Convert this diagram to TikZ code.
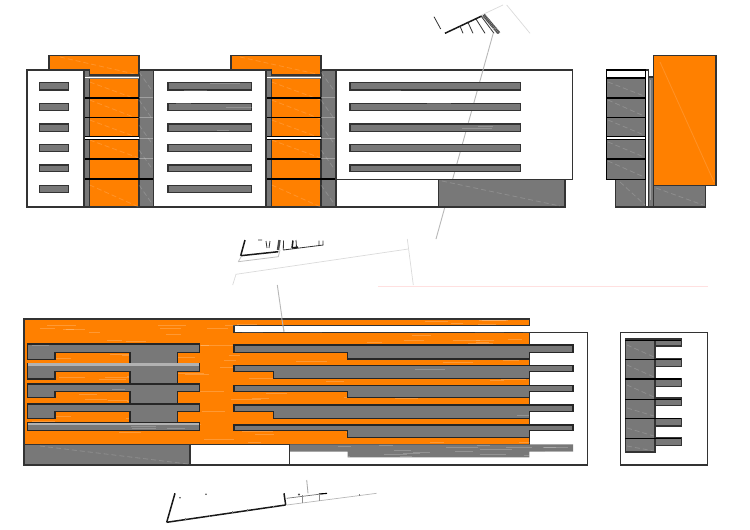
\documentclass[tikz,border=0pt]{standalone}
\definecolor{orng}{HTML}{FF8000}
\definecolor{gr}{HTML}{787878}
\definecolor{edge}{HTML}{333333}
\tikzset{
 x=1pt,y=-1pt,
 ln/.style={draw=edge,line width=1.3pt,line join=miter},
 thk/.style={draw=black,line width=1.6pt},
 okbox/.style={fill=orng,ln},
 grbox/.style={fill=gr,ln},
 wbox/.style={fill=white,ln},
 win/.style={fill=gr,draw=black!80,line width=1.4pt},
 faint/.style={draw=black!25,line width=.8pt},
 fainter/.style={draw=black!14,line width=.7pt},
 site/.style={draw=black!80,line width=.8pt},
 sitethick/.style={draw=black!90,line width=1.5pt},
 sheen/.style={draw=white,opacity=.2,line width=.9pt},
 diag/.style={draw=white,opacity=.16,line width=.8pt,dash pattern=on 5pt off 3pt},
}
% #1 x0, #2 y0, #3 width, #4 height, #5 count: horizontal pale dashes
\newcommand{\streaks}[5]{%
 \foreach \i in {1,...,#5}{%
  \pgfmathsetmacro{\sx}{#1+rnd*#3}%
  \pgfmathsetmacro{\sy}{#2+rnd*#4}%
  \pgfmathsetmacro{\sl}{10+rnd*22}%
  \draw[sheen] (\sx,\sy) -- ++(\sl,0);
 }}
% #1 path, #2..#5 streak box, #6 count
\newcommand{\band}[6]{%
 \fill[gr] #1;
 \begin{scope}\clip #1; \streaks{#2}{#3}{#4}{#5}{#6}\end{scope}
 \draw[draw=black!85,line width=1.3pt,line join=miter] #1;}
\begin{document}
\begin{tikzpicture}
\pgfmathsetseed{4242}
\fill[white] (0,0) rectangle (750,530);
\useasboundingbox (0,0) rectangle (750,530);

%--- faint site lines behind
\draw[fainter] (481.7,15) -- (503,5) (506.7,5) -- (530,33.3);
\draw[fainter] (232.7,285) -- (236,274.3) -- (408.3,249);
\draw[fainter] (407.3,239) -- (413.3,285);
\draw[faint] (238.3,261.7) -- (278.3,256.7) -- (280,250);
\draw[faint] (241,257) -- (238.3,261.7);
\draw[draw=black!28,line width=.9pt] (277.3,285) -- (284,331.7);
\draw[draw=red!12,line width=1pt] (378,286) -- (708,286);

%--- top site fragment
\begin{scope}
\clip (425,5) rectangle (540,33.3);
\draw[site] (434,16.7) -- (440.7,29);
\draw[sitethick] (445,33.3) -- (481.7,16);
\draw[site] (460,26) -- (463,33.3) (468,22.5) -- (473,33.3) (476,19) -- (485,33.3);
\draw[draw=black!70,line width=3.4pt,dash pattern=on 1.2pt off .5pt] (483.5,15) -- (499,33.3);
\draw[site] (481,16) -- (494,33.3);
\end{scope}

%--- middle site fragment
\draw[sitethick] (245,240) -- (240.7,255.7);
\draw[sitethick] (240.7,255.7) -- (278.3,251.7);
\draw[draw=black!70,line width=2.4pt] (279.5,240) -- (278,250);
\draw[site] (258,240) -- (262,240) (266,241) -- (267,248) (270,241) -- (269,248);
\draw[site] (283.5,240.5) -- (283.3,250);
\draw[site] (283.3,250) -- (323.3,245);
\draw[sitethick] (293,240.5) -- (292,248) (292,248) -- (298,247);
\draw[site] (296,240) -- (296.5,247) (319,240.5) -- (319,245.5) (323,240.5) -- (323,245);

%--- bottom site fragment
\draw[sitethick] (175,493.3) -- (166.7,522.3);
\draw[sitethick] (166.7,522.3) -- (285.5,505);
\draw[sitethick] (284,493.3) -- (285.7,505);
\draw[draw=black!55,line width=.7pt] (286.7,498.3) -- (326.7,493.3);
\draw[draw=black,line width=1.1pt] (319,494) -- (327,493.4);
\draw[draw=black!28,line width=.7pt] (286.7,505) -- (376.7,493.3);
\draw[draw=black!45,line width=.6pt] (302.3,495) -- (302.3,503.3) (319,494) -- (319,501);
\draw[draw=black!35,line width=.8pt] (306.7,480) -- (308,493.3);
\fill[black!70] (180,497.7) circle (.9) (206,494.3) circle (.9) (299,494.5) circle (1.1);
\draw[draw=black!50,line width=.6pt] (185.5,517.5) -- ++(0,2) (209,514.5) -- ++(0,2) (232,511) -- ++(0,2) (247.5,509) -- ++(0,2) (273.5,505.5) -- ++(0,2) (359.5,494) -- ++(0,2);

%=== FRONT ELEVATION
\path[okbox] (49,55.7) rectangle (139,90);
\path[okbox] (231,55.7) rectangle (321,90);
\draw[diag] (60,57) -- (139,75) (240,57) -- (321,75);
\path[grbox] (84,70) rectangle (89.7,207);
\path[okbox] (89.7,75) rectangle (139,207);
\path[grbox] (139,70) rectangle (153.3,207);
\path[grbox] (266,70) rectangle (271.7,207);
\path[okbox] (271.7,75) rectangle (321,207);
\path[grbox] (321,70) rectangle (336,207);
\foreach \xa in {89.7,271.7}{
 \draw[diag] (\xa,82) -- ++(49,18) (\xa,100) -- ++(49,19) (\xa,120) -- ++(49,18) (\xa,140) -- ++(49,18) (\xa,185) -- ++(49,22);
}
\foreach \xa in {139,321}{
 \draw[diag] (\xa,72) -- ++(14,20) (\xa,100) -- ++(14,20) (\xa,125) -- ++(14,20) (\xa,150) -- ++(14,20) (\xa,185) -- ++(14,20);
}
\foreach \xa/\xb in {84/139,266/321}{
 \fill[white] (\xa,75.8) rectangle (\xb,78.2);
 \draw[draw=gr,line width=1pt] (\xa,76) -- (\xb,76) (\xa,78) -- (\xb,78);
 \draw[thk] (\xa,97.7) -- (\xb,97.7) (\xa,117.3) -- (\xb,117.3);
 \fill[white] (\xa,137.3) rectangle (\xb,139.3);
 \draw[draw=black,line width=.9pt] (\xa,139.7) -- (\xb,139.7) (\xa,136.9) -- (\xb,136.9);
 \draw[thk] (\xa,158.7) -- (\xb,158.7) (\xa,178.7) -- (\xb,178.7);
}
\draw[thk] (139,178.7) -- (153.3,178.7) (321,178.7) -- (336,178.7);
\foreach \xa in {139,321}{
 \draw[draw=white,opacity=.3,line width=.8pt] (\xa,97.7) -- ++(14,0) (\xa,117.3) -- ++(14,0) (\xa,138.3) -- ++(14,0) (\xa,158.7) -- ++(14,0);
}
\path[wbox] (27,70) rectangle (84,207);
\path[wbox] (153.3,70) rectangle (266,207);
\path[wbox] (336,70) rectangle (572.5,179.5);
\path[wbox] (336,179.5) rectangle (438.5,207);
\draw[draw=black!28,line width=.9pt] (493.3,33) -- (436,239);
\path[grbox] (438.5,179.5) rectangle (565,207);
\draw[diag] (442,181) -- (560,206);
\foreach \ya/\yb in {82.7/90,103.7/110.3,124/131.3,144.3/151.7,165/171.7,185.3/192.7}{
 \path[win] (39.5,\ya) rectangle (68.7,\yb);
 \path[win] (168,\ya) rectangle (251.3,\yb);
 \streaks{42}{\ya+1.5}{20}{\yb-\ya-3}{1}
 \streaks{172}{\ya+1.5}{70}{\yb-\ya-3}{3}
}
\foreach \ya/\yb in {82.7/90,103.7/110.3,124/131.3,144.3/151.7,165/171.7}{
 \path[win] (350,\ya) rectangle (520.3,\yb);
 \streaks{360}{\ya+1.5}{140}{\yb-\ya-3}{5}
}

%=== SIDE ELEVATION
\path[grbox] (615.7,179) rectangle (647.3,207);
\path[grbox] (653.3,185) rectangle (705.3,207);
\path[grbox] (647.3,77) rectangle (653.3,207);
\draw[draw=white,opacity=.35,line width=1.4pt] (650.3,80) -- (650.3,200);
\path[wbox] (645.7,70) rectangle (648.3,207);
\path[grbox,draw=black] (606.3,70) rectangle (645.3,179.3);
\fill[white] (607,70.6) rectangle (644.7,77.3);
\draw[thk] (606.3,77.7) -- (645.3,77.7) (606.3,97.7) -- (645.3,97.7) (606.3,117.3) -- (645.3,117.3) (606.3,158.7) -- (645.3,158.7);
\fill[white] (606.8,137.3) rectangle (644.8,139.3);
\draw[draw=black,line width=.9pt] (606.3,136.8) -- (645.3,136.8) (606.3,139.6) -- (645.3,139.6);
\draw[diag] (608,82) -- (644,96) (608,100) -- (644,116) (608,120) -- (644,135) (608,142) -- (644,157) (608,161) -- (644,177);
\draw[diag] (620,182) -- (645,205) (656,188) -- (703,205);
\path[okbox,draw=black!80] (653.3,55.7) rectangle (716,185.3);
\draw[draw=white,opacity=.15,line width=.8pt] (660,62) -- (714,182);

%=== PLAN
\path[wbox] (289.5,332.7) rectangle (587.7,465);
\path[okbox] (24,319) -- (529.5,319) -- (529.5,325.7) -- (234,325.7) -- (234,332.7) -- (529.5,332.7) -- (529.5,444.3) -- (24,444.3) -- cycle;
\begin{scope}
 \clip (24,319) -- (529.5,319) -- (529.5,325.7) -- (234,325.7) -- (234,332.7) -- (529.5,332.7) -- (529.5,444.3) -- (24,444.3) -- cycle;
 \streaks{24}{320}{500}{124}{130}
\end{scope}
\draw[draw=black!28,line width=.9pt] (281.7,318) -- (284,331.7);
\path[grbox] (24,444.3) rectangle (190,465);
\draw[diag] (40,446) -- (188,464);
\path[wbox] (190,444.3) rectangle (289.5,465);
\fill[gr] (290,444.3) -- (573,444.3) -- (573,451.7) -- (529.3,451.7) -- (529.3,457.3) -- (347.7,457.3) -- (347.7,451.7) -- (290,451.7) -- cycle;
\begin{scope}
 \clip (290,444.3) -- (573,444.3) -- (573,451.7) -- (529.3,451.7) -- (529.3,457.3) -- (347.7,457.3) -- (347.7,451.7) -- (290,451.7) -- cycle;
 \streaks{290}{445}{270}{12}{20}
\end{scope}
\foreach \a/\b/\c/\d in {344/352.3/359.3/364,364/371.7/379/384,384/391.7/397.7/404,404/411.7/418.3/422.7}{
 \band{(27.3,\a) -- (199.7,\a) -- (199.7,\b) -- (177.3,\b) -- (177.3,\d) -- (130,\d) -- (130,\b) -- (55,\b) -- (55,\c) -- (27.3,\c) -- cycle}{28}{\a}{170}{\d-\a}{14}
}
\band{(27.3,422.7) -- (199.7,422.7) -- (199.7,430.7) -- (27.3,430.7) -- cycle}{28}{426}{170}{4}{3}
\fill[black!30] (28,423.3) rectangle (199,425.4);
\fill[black!30] (28,363.4) rectangle (199,365.5);
\foreach \a/\b/\c/\k in {345/352.3/359/347.7,365.7/371.7/378.3/273.3,385.3/391.7/397.7/347.7,405/411.7/418.3/273.3,425/430.7/437.7/347.7}{
 \band{(234,\a) -- (573,\a) -- (573,\b) -- (529.3,\b) -- (529.3,\c) -- (\k,\c) -- (\k,\b) -- (234,\b) -- cycle}{236}{\a}{320}{\c-\a}{20}
}

%=== SMALL PLAN
\path[wbox] (620.7,332.7) rectangle (707.7,465);
\foreach \a/\b in {339/346,359/366.7,378.7/386.7,398/405.7,418.3/426,438/445.7}{
 \path[grbox] (655,\a) rectangle (681.3,\b);
}
\path[grbox] (625.3,339) rectangle (655,452);
\draw[diag] (627,345) -- (654,357) (627,365) -- (654,377) (627,385) -- (654,397) (627,408) -- (654,416) (627,428) -- (654,436) (627,446) -- (654,451);
\draw[thk] (625.3,359.3) -- (681.3,359.3) (625.3,379) -- (681.3,379) (625.3,418.6) -- (681.3,418.6) (625.3,438.3) -- (681.3,438.3);
\draw[draw=black,line width=.7pt] (625.3,340.8) -- (681.3,340.8) (625.3,399.8) -- (681.3,399.8);
\end{tikzpicture}
\end{document}
